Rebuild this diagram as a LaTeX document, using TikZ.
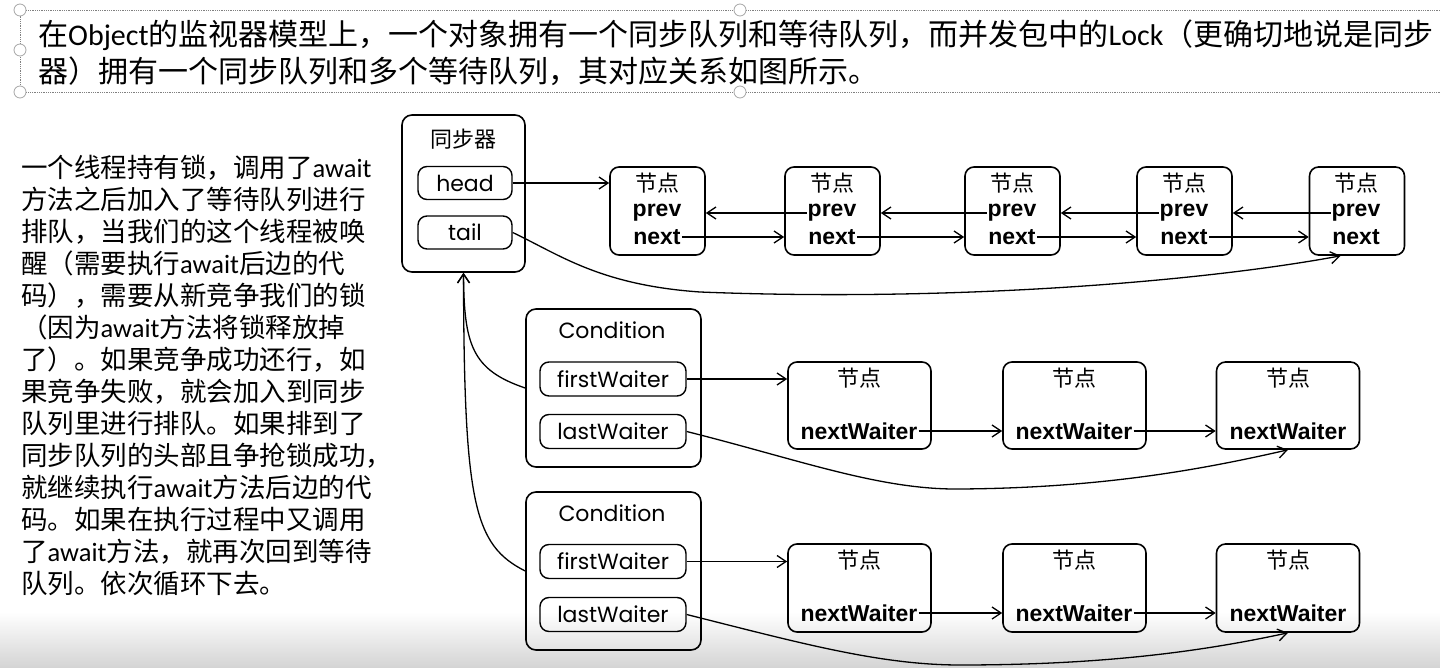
\documentclass[tikz,border=0pt]{standalone}
\usepackage{fontspec}
\setmainfont{Noto Sans CJK SC}
\newfontfamily\gothic{Poppins}
\newfontfamily\arialb{Liberation Sans}
\newfontfamily\calibri{Carlito}
\newcommand{\lat}[1]{{\calibri #1}}
\usetikzlibrary{arrows.meta}

\tikzset{
  holder/.style={draw, line width=1.6pt, rounded corners=10pt, inner sep=0pt},
  slot/.style={draw, line width=1.4pt, rounded corners=9pt, inner sep=0pt, minimum width=94pt, minimum height=33pt, font=\gothic\fontsize{22}{22}\selectfont},
  cell/.style={draw, line width=1.6pt, rounded corners=9pt, inner sep=0pt},
  hanzi/.style={inner sep=1pt, font=\fontsize{22}{22}\selectfont},
  fieldname/.style={inner sep=1pt, font=\arialb\bfseries\fontsize{23}{23}\selectfont},
  link/.style={line width=1.3pt, -{Straight Barb[length=9pt,width=12pt,line width=1.3pt]}},
  handle/.style={draw=gray!70, fill=white, line width=0.8pt}
}

\begin{document}
\begin{tikzpicture}[x=1pt,y=1pt,yscale=-1,xscale=1]
\useasboundingbox (0,0) rectangle (1440,668);
%Shape: band at the bottom
\shade[top color=white, bottom color=black!17] (0,612) rectangle (1440,668);
%Shape: frame of the text box
\draw[gray, densely dotted, line width=0.8pt] (1440,10) -- (20,10) -- (20,92) -- (1440,92);
\draw[handle] (20,10) circle (6) (20,50) circle (6) (20,92) circle (6) (740,10) circle (6) (740,92) circle (6);

% Text Node
\node[anchor=west, inner sep=0pt, font=\fontsize{30}{38}\selectfont] (title1) at (38,35) {在\lat{Object}的监视器模型上，一个对象拥有一个同步队列和等待队列，而并发包中的\lat{Lock}（更确切地说是同步};
% Text Node
\node[anchor=west, inner sep=0pt, font=\fontsize{30}{38}\selectfont] (title2) at (38,71) {器）拥有一个同步队列和多个等待队列，其对应关系如图所示。};
% Text Node
\node[anchor=north west, inner sep=0pt, align=left, font=\fontsize{26.5}{32}\selectfont] (note) at (21,155) {一个线程持有锁，调用了\lat{await}\\方法之后加入了等待队列进行\\排队，当我们的这个线程被唤\\醒（需要执行\lat{await}后边的代\\码），需要从新竞争我们的锁\\（因为\lat{await}方法将锁释放掉\\了）。如果竞争成功还行，如\\果竞争失败，就会加入到同步\\队列里进行排队。如果排到了\\同步队列的头部且争抢锁成功，\\就继续执行\lat{await}方法后边的代\\码。如果在执行过程中又调用\\了\lat{await}方法，就再次回到等待\\队列。依次循环下去。};

%Shape: synchronizer
\node[holder, minimum width=123pt, minimum height=157pt] (sync) at (463.5,193.5) {};
\node[hanzi] (synct) at (463,139) {同步器};
\node[slot] (head) at (465,183) {head};
\node[slot] (tail) at (465,232.5) {tail};

%Shape: queue nodes
\node[cell, minimum width=95pt, minimum height=88pt] (n1) at (657.5,211) {};
\node[cell, minimum width=95pt, minimum height=88pt] (n2) at (832.5,211) {};
\node[cell, minimum width=95pt, minimum height=88pt] (n3) at (1012.5,211) {};
\node[cell, minimum width=95pt, minimum height=88pt] (n4) at (1184.5,211) {};
\node[cell, minimum width=95pt, minimum height=88pt] (n5) at (1357,211) {};
\node[hanzi] (n1t) at (657,183) {节点};
\node[fieldname] (n1p) at (657,213) {prev};
\node[fieldname] (n1n) at (657,237) {next};
\node[hanzi] (n2t) at (832,183) {节点};
\node[fieldname] (n2p) at (832,213) {prev};
\node[fieldname] (n2n) at (832,237) {next};
\node[hanzi] (n3t) at (1012,183) {节点};
\node[fieldname] (n3p) at (1012,213) {prev};
\node[fieldname] (n3n) at (1012,237) {next};
\node[hanzi] (n4t) at (1184,183) {节点};
\node[fieldname] (n4p) at (1184,213) {prev};
\node[fieldname] (n4n) at (1184,237) {next};
\node[hanzi] (n5t) at (1356,183) {节点};
\node[fieldname] (n5p) at (1356,213) {prev};
\node[fieldname] (n5n) at (1356,237) {next};

%Shape: conditions
\node[holder, minimum width=175pt, minimum height=158pt] (c1) at (613.5,388) {};
\node[inner sep=0pt, font=\gothic\fontsize{22}{22}\selectfont] (c1t) at (612,330) {Condition};
\node[slot, minimum width=146pt, minimum height=34pt] (fw1) at (613,379) {firstWaiter};
\node[slot, minimum width=146pt, minimum height=34pt] (lw1) at (613,431.5) {lastWaiter};
\node[holder, minimum width=175pt, minimum height=158pt] (c2) at (613.5,571) {};
\node[inner sep=0pt, font=\gothic\fontsize{22}{22}\selectfont] (c2t) at (612,513) {Condition};
\node[slot, minimum width=146pt, minimum height=34pt] (fw2) at (613,561.5) {firstWaiter};
\node[slot, minimum width=146pt, minimum height=34pt] (lw2) at (613,614.5) {lastWaiter};

%Shape: waiting nodes
\node[cell, minimum width=143pt, minimum height=87pt] (w11) at (859.5,405.5) {};
\node[cell, minimum width=143pt, minimum height=87pt] (w12) at (1074.5,405.5) {};
\node[cell, minimum width=143pt, minimum height=87pt] (w13) at (1288,405.5) {};
\node[hanzi] (w11t) at (859,378) {节点};
\node[fieldname] (w11n) at (859,431) {nextWaiter};
\node[hanzi] (w12t) at (1074,378) {节点};
\node[fieldname] (w12n) at (1074,431) {nextWaiter};
\node[hanzi] (w13t) at (1288,378) {节点};
\node[fieldname] (w13n) at (1288,431) {nextWaiter};
\node[cell, minimum width=143pt, minimum height=88pt] (w21) at (859.5,588) {};
\node[cell, minimum width=143pt, minimum height=88pt] (w22) at (1074.5,588) {};
\node[cell, minimum width=143pt, minimum height=88pt] (w23) at (1288,588) {};
\node[hanzi] (w21t) at (859,560) {节点};
\node[fieldname] (w21n) at (859,613) {nextWaiter};
\node[hanzi] (w22t) at (1074,560) {节点};
\node[fieldname] (w22n) at (1074,613) {nextWaiter};
\node[hanzi] (w23t) at (1288,560) {节点};
\node[fieldname] (w23n) at (1288,613) {nextWaiter};

%Straight Lines
\draw[link] (head.east) -- (head.east -| n1.west);
\draw[link] (n1n.east) -- (n1n.east -| n2.west);
\draw[link] (n2n.east) -- (n2n.east -| n3.west);
\draw[link] (n3n.east) -- (n3n.east -| n4.west);
\draw[link] (n4n.east) -- (n4n.east -| n5.west);
\draw[link] (n2p.west) -- (n2p.west -| n1.east);
\draw[link] (n3p.west) -- (n3p.west -| n2.east);
\draw[link] (n4p.west) -- (n4p.west -| n3.east);
\draw[link] (n5p.west) -- (n5p.west -| n4.east);
\draw[link] (fw1.east) -- (fw1.east -| w11.west);
\draw[link] (w11n.east) -- (w11n.east -| w12.west);
\draw[link] (w12n.east) -- (w12n.east -| w13.west);
\draw[link] (fw2.east) -- (fw2.east -| w21.west);
\draw[link] (w21n.east) -- (w21n.east -| w22.west);
\draw[link] (w22n.east) -- (w22n.east -| w23.west);

%Curve Lines
\draw[link] (tail.east) .. controls (560,255) and (600,285) .. (700,292) .. controls (950,302) and (1200,282) .. (n5.250);
\draw[link] (lw1.east) .. controls (800,460) and (880,490) .. (960,489) .. controls (1100,488) and (1200,470) .. (w13.south);
\draw[link] (lw2.east) .. controls (800,643) and (880,665) .. (960,665) .. controls (1100,665) and (1200,652) .. (w23.south);
\draw[link] (c1.west) .. controls (472,370) and (464,345) .. (sync.south);
\draw[link] (c2.west) .. controls (474,545) and (464,505) .. (sync.south);
\end{tikzpicture}
\end{document}
